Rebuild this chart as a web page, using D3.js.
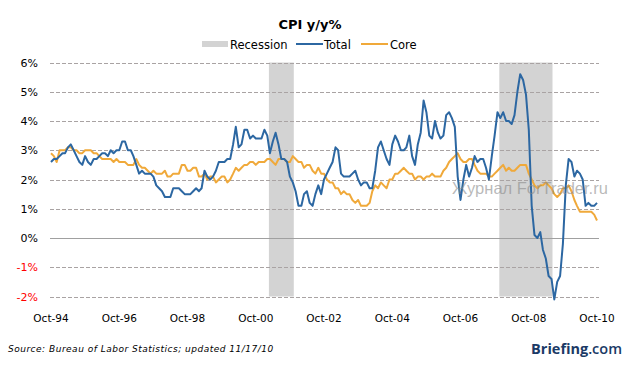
<!DOCTYPE html>
<html><head><meta charset="utf-8">
<script src="https://cdn.jsdelivr.net/npm/d3@7/dist/d3.min.js"></script>
<style>html,body{margin:0;padding:0;background:#fff;}svg{display:block;}</style>
</head><body>
<svg id="chart" width="628" height="369"></svg>
<script>
// Monthly values from Oct-94 to Oct-10
const startMonth = "1994-10";
const totalValues = [
 2.6,2.7,2.7,
 2.8,2.9,2.9,3.1,3.2,3.0,2.8,2.6,2.5,2.8,2.6,2.5,
 2.7,2.7,2.8,2.9,2.9,2.8,3.0,2.9,3.0,3.0,3.3,3.3,
 3.0,3.0,2.8,2.5,2.2,2.3,2.2,2.2,2.2,2.1,1.8,1.7,
 1.6,1.4,1.4,1.4,1.7,1.7,1.7,1.6,1.5,1.5,1.5,1.6,
 1.7,1.6,1.7,2.3,2.1,2.0,2.1,2.3,2.6,2.6,2.6,2.7,
 2.7,3.2,3.8,3.1,3.2,3.7,3.7,3.4,3.5,3.4,3.4,3.4,
 3.7,3.5,2.9,3.3,3.6,3.2,2.7,2.7,2.6,2.1,1.9,1.6,
 1.1,1.1,1.5,1.6,1.2,1.1,1.5,1.8,1.5,2.0,2.2,2.4,
 2.6,3.1,3.0,2.2,2.1,2.1,2.1,2.2,2.3,2.0,1.8,1.9,
 1.9,1.7,1.7,2.3,3.1,3.3,3.0,2.7,2.5,3.2,3.5,3.3,
 3.0,3.0,3.1,3.5,2.8,2.5,3.2,3.6,4.7,4.3,3.5,3.4,
 4.0,3.6,3.4,3.5,4.2,4.3,4.1,3.8,2.1,1.3,2.0,2.5,
 2.1,2.4,2.8,2.6,2.7,2.7,2.4,2.0,2.8,3.5,4.3,4.1,
 4.3,4.0,4.0,3.9,4.2,5.0,5.6,5.4,4.9,3.7,1.1,0.1,
 0.0,0.2,-0.4,-0.7,-1.3,-1.4,-2.1,-1.5,-1.3,-0.2,1.8,2.7,
 2.6,2.1,2.3,2.2,2.0,1.1,1.2,1.1,1.1,1.2
];
const coreValues = [
 2.9,2.8,2.6,
 3.0,3.0,3.0,3.1,3.1,3.0,3.0,2.9,2.9,3.0,3.0,3.0,
 2.9,2.9,2.8,2.7,2.7,2.7,2.7,2.6,2.7,2.6,2.6,2.6,
 2.5,2.5,2.5,2.7,2.5,2.4,2.4,2.3,2.2,2.3,2.2,2.2,
 2.2,2.3,2.1,2.1,2.2,2.2,2.2,2.5,2.5,2.3,2.3,2.4,
 2.4,2.1,2.1,2.2,2.0,2.1,2.1,1.9,2.0,2.1,2.1,1.9,
 2.0,2.2,2.4,2.3,2.4,2.5,2.5,2.6,2.6,2.5,2.6,2.6,
 2.6,2.7,2.7,2.6,2.5,2.7,2.7,2.7,2.6,2.6,2.8,2.7,
 2.6,2.6,2.4,2.5,2.5,2.3,2.2,2.4,2.2,2.2,2.0,1.9,
 1.9,1.7,1.7,1.5,1.6,1.5,1.5,1.3,1.2,1.3,1.1,1.1,
 1.1,1.2,1.6,1.8,1.7,1.9,1.8,1.7,2.0,2.0,2.2,2.2,
 2.3,2.4,2.3,2.2,2.2,2.0,2.1,2.1,2.0,2.1,2.1,2.2,
 2.1,2.1,2.1,2.3,2.4,2.6,2.7,2.8,2.9,2.7,2.6,2.6,
 2.7,2.7,2.5,2.3,2.2,2.2,2.2,2.1,2.1,2.2,2.3,2.4,
 2.5,2.3,2.4,2.3,2.3,2.4,2.5,2.5,2.5,2.2,2.0,1.8,
 1.7,1.8,1.8,1.9,1.8,1.7,1.5,1.4,1.5,1.7,1.7,1.8,
 1.6,1.3,1.1,0.9,0.9,0.9,0.9,0.9,0.8,0.6
];
const recessions = [["2001-03","2001-11"],["2007-12","2009-06"]];
const yTicks = [-2,-1,0,1,2,3,4,5,6];
const xTickLabels = ["Oct-94","Oct-96","Oct-98","Oct-00","Oct-02","Oct-04","Oct-06","Oct-08","Oct-10"];
const seriesNames = ["Total","Core"];
const legendNames = ["Recession","Total","Core"];
const titleText = "CPI y/y%";
const sourceText = "Source: Bureau of Labor Statistics; updated 11/17/10";
const watermarkText = "Журнал ForTrader.ru";

const parseM = d3.timeParse("%Y-%m");
const t0 = parseM(startMonth);
const dates = totalValues.map((_, i) => d3.timeMonth.offset(t0, i));
const tEnd = dates[dates.length - 1];

const svg = d3.select("#chart");
const F = "'DejaVu Sans', Verdana, sans-serif";
const x = d3.scaleTime().domain([t0, tEnd]).range([51, 597]);
const y = d3.scaleLinear().domain([-2, 6]).range([296.5, 62.5]);
const plotL = 50, plotR = 599;

// recession bands
svg.append("g").selectAll("rect").data(recessions).join("rect")
  .attr("x", d => x(parseM(d[0])) - 1)
  .attr("width", d => x(parseM(d[1])) - x(parseM(d[0])) + 2)
  .attr("y", y(6)).attr("height", y(-2) - y(6))
  .attr("fill", "#d3d3d3");

// gridlines
svg.append("g").selectAll("line").data(yTicks).join("line")
  .attr("x1", plotL).attr("x2", plotR)
  .attr("y1", d => Math.round(y(d)) + 0.5).attr("y2", d => Math.round(y(d)) + 0.5)
  .attr("stroke", d => d === 0 ? "#a0a0a0" : "#a9a3a3")
  .attr("stroke-width", 1)
  .attr("stroke-dasharray", d => d === 0 ? null : "4,2");

// y labels
svg.append("g").selectAll("text").data(yTicks).join("text")
  .attr("x", 38).attr("y", d => y(d) + 4)
  .attr("text-anchor", "end")
  .attr("font-family", F).attr("font-size", 11)
  .attr("fill", d => d < 0 ? "#ff0000" : "#000")
  .text(d => d + "%");

// x labels
svg.append("g").selectAll("text").data(xTickLabels).join("text")
  .attr("x", (d, i) => x(d3.timeMonth.offset(t0, i * 24)))
  .attr("y", 322)
  .attr("text-anchor", "middle")
  .attr("font-family", F).attr("font-size", 10.5)
  .attr("fill", "#000")
  .text(d => d);

// lines
const line = d3.line().x((d, i) => x(dates[i])).y(d => y(d)).curve(d3.curveLinear);
svg.append("path").datum(coreValues).attr("d", line)
  .attr("fill", "none").attr("stroke", "#f0a93a").attr("stroke-width", 2).attr("stroke-linejoin", "round");
svg.append("path").datum(totalValues).attr("d", line)
  .attr("fill", "none").attr("stroke", "#2c67a2").attr("stroke-width", 2).attr("stroke-linejoin", "round");

// watermark
svg.append("text").attr("x", 452).attr("y", 194)
  .attr("font-family", "'Liberation Sans', Arial, sans-serif").attr("font-size", 16.5)
  .attr("fill", "#8a8a8a").attr("fill-opacity", 0.6)
  .text(watermarkText);

// title
svg.append("text").attr("x", 310).attr("y", 29).attr("text-anchor", "middle")
  .attr("font-family", F).attr("font-size", 13).attr("font-weight", "bold")
  .text(titleText);

// legend
const lg = svg.append("g").attr("font-family", F).attr("font-size", 11.5);
lg.append("rect").attr("x", 202).attr("y", 41).attr("width", 26).attr("height", 6).attr("fill", "#d3d3d3");
lg.append("text").attr("x", 230).attr("y", 49).text(legendNames[0]);
lg.append("line").attr("x1", 296).attr("x2", 323).attr("y1", 44).attr("y2", 44).attr("stroke", "#2c67a2").attr("stroke-width", 2);
lg.append("text").attr("x", 324).attr("y", 49).text(legendNames[1]);
lg.append("line").attr("x1", 361).attr("x2", 388).attr("y1", 44).attr("y2", 44).attr("stroke", "#f0a93a").attr("stroke-width", 2);
lg.append("text").attr("x", 390).attr("y", 49).text(legendNames[2]);

// source
svg.append("text").attr("x", 8).attr("y", 352)
  .attr("font-family", F).attr("font-size", 9).attr("font-style", "italic")
  .attr("letter-spacing", 0.5)
  .attr("fill", "#000").text(sourceText);

// Briefing.com
const br = svg.append("text").attr("x", 622).attr("y", 354).attr("text-anchor", "end")
  .attr("font-family", "'Open Sans', 'Liberation Sans', sans-serif").attr("font-size", 14.5).attr("fill", "#1b3a66");
br.append("tspan").attr("font-weight", "bold").text("Briefing");
br.append("tspan").attr("font-weight", 600).text(".com");
</script>
</body></html>
